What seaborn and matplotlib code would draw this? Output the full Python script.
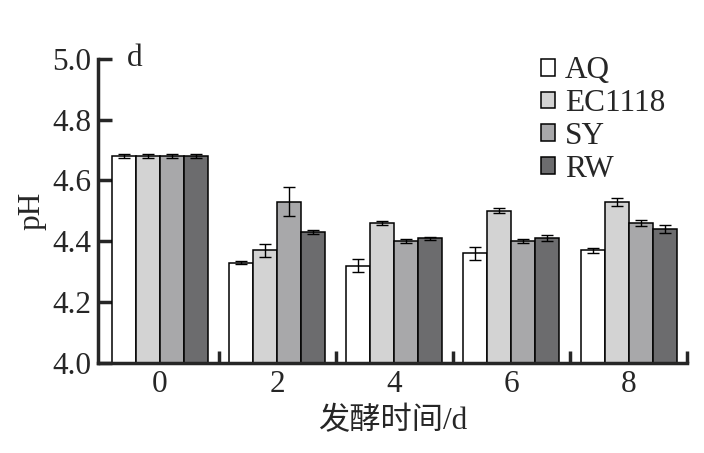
import numpy as np
import pandas as pd
import matplotlib
matplotlib.use("Agg")
import matplotlib.pyplot as plt
import seaborn as sns

dias = ["0", "2", "4", "6", "8"]
cepas = ["AQ", "EC1118", "SY", "RW"]
cores = ["#ffffff", "#d3d3d3", "#a8a8aa", "#6c6c6e"]

ph_aq = [4.68, 4.33, 4.32, 4.36, 4.37]
ph_ec = [4.68, 4.37, 4.46, 4.50, 4.53]
ph_sy = [4.68, 4.53, 4.40, 4.40, 4.46]
ph_rw = [4.68, 4.43, 4.41, 4.41, 4.44]

err_aq = [0.006, 0.004, 0.022, 0.020, 0.007]
err_ec = [0.006, 0.021, 0.008, 0.008, 0.013]
err_sy = [0.006, 0.047, 0.007, 0.007, 0.009]
err_rw = [0.006, 0.007, 0.005, 0.010, 0.013]

linhas = []
for cepa, vals, errs in zip(cepas, [ph_aq, ph_ec, ph_sy, ph_rw],
                            [err_aq, err_ec, err_sy, err_rw]):
    for d, v, e in zip(dias, vals, errs):
        linhas.append({"dia": d, "cepa": cepa, "pH": v, "err": e})
dados = pd.DataFrame(linhas)

sns.set_style("ticks")
plt.rcParams["font.family"] = ["Liberation Serif", "Noto Sans CJK SC"]
fs = 22.5

fig, ax = plt.subplots(figsize=(7.04, 4.53), dpi=100)
fig.subplots_adjust(left=0.139, right=0.976, bottom=0.199, top=0.870)

sns.barplot(data=dados, x="dia", y="pH", hue="cepa", order=dias,
            hue_order=cepas, palette=cores, errorbar=None, width=0.82,
            edgecolor="black", linewidth=1.1, ax=ax)

# barras de erro nas posicoes das barras desenhadas
for cont, cepa in zip(ax.containers, cepas):
    sub = dados[dados["cepa"] == cepa].set_index("dia").loc[dias]
    xs = [b.get_x() + b.get_width() / 2 for b in cont]
    ax.errorbar(xs, sub["pH"], yerr=sub["err"], fmt="none", ecolor="black",
                elinewidth=1.0, capsize=4.5, capthick=1.0, zorder=5)

ax.set_ylim(4.0, 5.0)
ax.set_xlim(-0.53, 4.5)
ax.set_yticks([4.0, 4.2, 4.4, 4.6, 4.8, 5.0])
ax.set_yticklabels(["4.0", "4.2", "4.4", "4.6", "4.8", "5.0"])
ax.set_xticks(range(5))
ax.set_xticklabels(dias)
ax.set_xticks([0.5, 1.5, 2.5, 3.5, 4.5], minor=True)
ax.tick_params(axis="x", which="major", length=0, labelsize=fs, pad=5)
ax.tick_params(axis="x", which="minor", direction="in", length=9, width=2.5)
ax.tick_params(axis="y", direction="in", length=10, width=2.5, labelsize=fs, pad=5)

for s in ["top", "right"]:
    ax.spines[s].set_visible(False)
for s in ["left", "bottom"]:
    ax.spines[s].set_linewidth(2.5)

ax.set_xlabel("发酵时间/d", fontsize=fs, labelpad=6)
ax.set_ylabel("pH", fontsize=fs, labelpad=4)
ax.text(0.05, 1.0, "d", transform=ax.transAxes, fontsize=fs, va="center")

ax.legend(loc="upper right", bbox_to_anchor=(0.995, 1.07), frameon=False,
          fontsize=fs, handlelength=0.45, handleheight=0.45, handletextpad=0.32,
          labelspacing=0.12, borderaxespad=0.2)

plt.savefig("out.png", dpi=100)
